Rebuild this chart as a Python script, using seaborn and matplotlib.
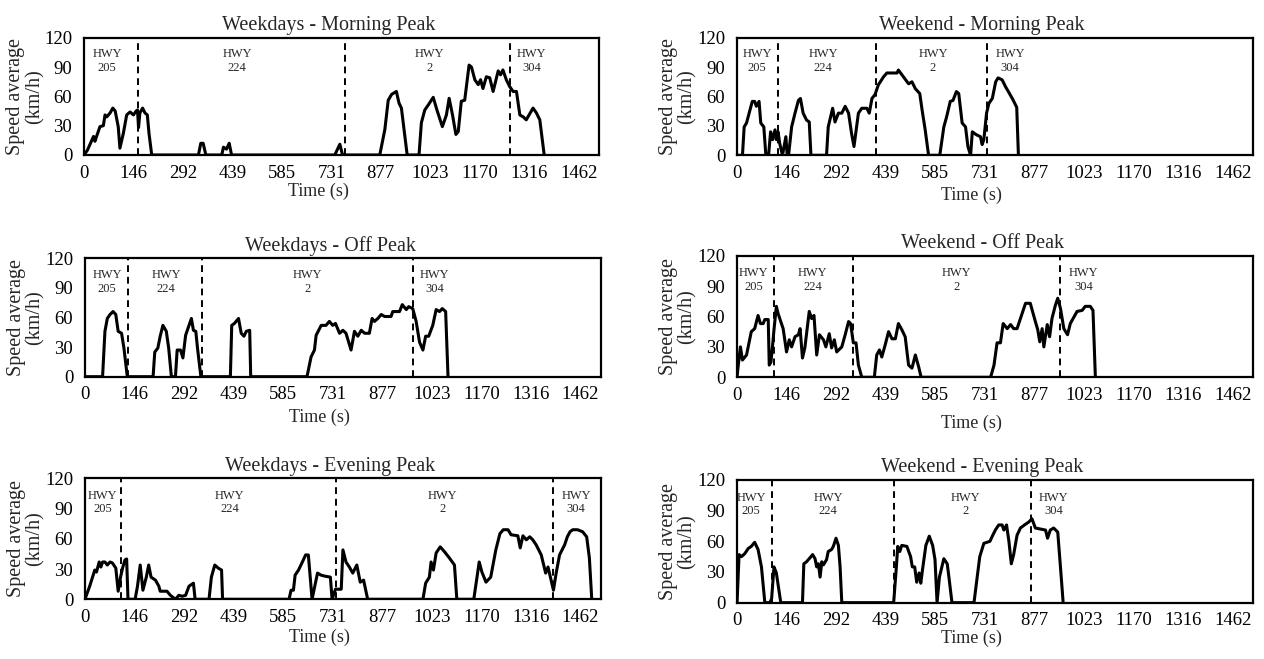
import matplotlib
matplotlib.use("Agg")
import matplotlib.pyplot as plt
import pandas as pd
import seaborn as sns

# -------------------
# Data (time in s, speed in km/h)
# -------------------
wd_morning_t = [0, 10, 28, 32, 42, 47, 57, 62, 67, 77, 85, 92, 101, 106, 116, 126, 136, 146, 154, 158,
                161, 165, 173, 180, 187, 192, 200, 338, 345, 352, 360, 407, 412, 421, 429, 436, 741, 756,
                764, 874, 889, 899, 909, 923, 931, 938, 955, 990, 997, 1007, 1017, 1032, 1043, 1059, 1071,
                1079, 1089, 1099, 1106, 1115, 1125, 1138, 1145, 1155, 1165, 1172, 1179, 1189, 1199, 1209,
                1224, 1231, 1238, 1248, 1258, 1268, 1278, 1288, 1298, 1307, 1327, 1337, 1347, 1360]
wd_morning_v = [0, 5, 19, 14, 24, 29, 30, 41, 39, 43, 48, 45, 29, 7, 22, 41, 44, 41, 45, 46,
                28, 43, 48, 43, 41, 22, 0, 0, 12, 12, 0, 0, 8, 6, 12, 0, 0, 11,
                0, 0, 26, 56, 62, 65, 53, 48, 0, 0, 33, 46, 51, 59, 46, 29, 41,
                58, 41, 21, 24, 55, 56, 92, 90, 77, 72, 77, 68, 80, 79, 65,
                86, 82, 87, 77, 70, 65, 65, 41, 39, 36, 48, 43, 36, 0]

we_morning_t = [0, 16, 21, 28, 38, 45, 52, 57, 65, 70, 79, 85, 93, 99, 105, 112, 116, 121, 126, 134,
                144, 148, 152, 161, 171, 181, 187, 195, 205, 213, 218, 264, 269, 282, 289, 299, 309, 319,
                329, 338, 345, 358, 368, 383, 390, 398, 407, 417, 432, 442, 472, 476, 491, 506, 516, 526,
                539, 546, 555, 565, 598, 610, 618, 629, 637, 647, 654, 664, 674, 681, 689, 694, 706, 718,
                723, 728, 736, 743, 753, 763, 770, 782, 792, 812, 825, 830]
we_morning_v = [0, 0, 29, 33, 46, 55, 55, 50, 55, 33, 29, 0, 0, 24, 16, 26, 16, 24, 12, 0,
                19, 0, 0, 29, 43, 56, 58, 43, 36, 34, 0, 0, 29, 48, 34, 43, 43, 50,
                43, 22, 9, 43, 48, 48, 43, 58, 62, 72, 80, 84, 84, 87, 80, 73, 75, 68,
                63, 46, 26, 0, 0, 29, 39, 55, 56, 65, 63, 33, 29, 9, 0, 24, 21, 19,
                11, 16, 43, 53, 58, 75, 79, 77, 70, 58, 49, 0]

wd_off_t = [0, 52, 59, 66, 74, 83, 91, 98, 108, 115, 125, 201, 206, 215, 222, 230, 240, 247, 255, 267,
            272, 282, 289, 297, 307, 314, 320, 327, 332, 342, 429, 433, 441, 453, 461, 469, 476, 486, 489,
            655, 667, 677, 682, 697, 711, 721, 731, 739, 751, 761, 770, 778, 785, 795, 805, 815, 825, 839,
            847, 854, 864, 874, 884, 903, 908, 928, 936, 948, 955, 967, 977, 987, 997, 1005, 1014, 1026,
            1036, 1046, 1054, 1064, 1071]
wd_off_v = [0, 0, 46, 59, 63, 66, 63, 46, 44, 29, 0, 0, 25, 29, 41, 52, 46, 29, 0, 0,
            27, 27, 19, 42, 52, 59, 47, 46, 29, 0, 0, 52, 54, 59, 44, 41, 46, 47, 0,
            0, 20, 27, 42, 52, 52, 56, 52, 54, 44, 47, 44, 35, 27, 46, 41, 47, 44, 44,
            59, 56, 59, 63, 61, 61, 66, 66, 73, 68, 71, 69, 56, 35, 27, 41, 41, 52,
            68, 66, 69, 66, 0]

we_off_t = [0, 3, 10, 16, 28, 42, 52, 62, 69, 77, 82, 92, 95, 100, 105, 109, 116, 121, 136, 146,
            154, 161, 171, 181, 186, 193, 200, 213, 220, 227, 235, 243, 255, 262, 272, 279, 287, 294,
            309, 319, 329, 335, 343, 351, 358, 368, 405, 412, 420, 427, 437, 447, 457, 467, 476, 486,
            496, 506, 516, 526, 536, 543, 748, 758, 767, 777, 785, 797, 807, 816, 826, 836, 851, 865,
            880, 887, 893, 900, 905, 915, 922, 929, 939, 946, 954, 964, 975, 983, 1003, 1018, 1027,
            1042, 1050, 1057]
we_off_v = [0, 10, 30, 17, 22, 45, 48, 61, 53, 53, 57, 57, 12, 15, 32, 47, 70, 63, 48, 25,
            37, 30, 40, 42, 48, 19, 29, 65, 58, 61, 22, 42, 37, 30, 43, 29, 37, 25,
            30, 42, 55, 53, 34, 34, 12, 0, 0, 22, 27, 20, 32, 45, 38, 38, 53, 47,
            40, 12, 9, 22, 10, 0, 0, 12, 34, 34, 53, 48, 52, 48, 48, 58, 73, 73,
            55, 47, 35, 48, 30, 52, 40, 58, 71, 78, 68, 48, 42, 53, 65, 66, 70,
            70, 66, 0]

wd_evening_t = [0, 14, 29, 34, 42, 47, 52, 59, 66, 74, 81, 91, 98, 105, 111, 118, 123, 127, 148, 155,
                163, 171, 181, 188, 195, 208, 218, 222, 242, 252, 267, 277, 287, 297, 307, 320, 325, 366,
                373, 383, 393, 403, 406, 602, 608, 615, 620, 630, 640, 651, 659, 670, 686, 696, 707, 724,
                729, 739, 756, 761, 770, 780, 790, 802, 812, 822, 834, 997, 1005, 1016, 1021, 1028, 1036,
                1048, 1061, 1075, 1090, 1097, 1147, 1163, 1171, 1183, 1197, 1212, 1224, 1234, 1248, 1257,
                1277, 1284, 1292, 1302, 1312, 1321, 1331, 1346, 1359, 1366, 1373, 1382, 1390, 1400, 1415,
                1423, 1431, 1439, 1453, 1468, 1480, 1488, 1495]
wd_evening_v = [0, 13, 29, 27, 37, 32, 37, 37, 34, 37, 36, 31, 8, 22, 31, 39, 40, 0, 0, 13,
                34, 9, 22, 34, 22, 19, 13, 8, 8, 4, 0, 4, 3, 4, 13, 16, 0, 0,
                22, 34, 31, 29, 0, 0, 9, 9, 24, 29, 36, 44, 44, 0, 26, 24, 23, 22,
                0, 10, 10, 49, 37, 32, 26, 34, 17, 19, 0, 0, 16, 22, 37, 29, 46,
                52, 47, 41, 34, 0, 0, 37, 27, 17, 22, 49, 65, 69, 69, 64,
                63, 51, 63, 59, 62, 59, 54, 44, 26, 32, 22, 9, 26, 44, 54,
                62, 67, 69, 69, 67, 62, 41, 0]

we_evening_t = [0, 6, 13, 23, 33, 42, 52, 62, 72, 82, 97, 102, 109, 116, 129, 193, 197, 205, 213, 223,
                230, 235, 240, 245, 250, 255, 264, 269, 279, 284, 292, 299, 304, 309, 462, 470, 474, 480,
                486, 501, 512, 517, 524, 530, 537, 542, 547, 557, 567, 577, 584, 590, 597, 610, 620, 625,
                634, 699, 708, 716, 728, 746, 753, 762, 772, 782, 787, 795, 802, 809, 816, 826, 836, 848,
                861, 870, 880, 895, 910, 916, 924, 934, 946, 954, 962]
we_evening_v = [0, 47, 45, 48, 53, 55, 59, 52, 35, 0, 0, 4, 35, 29, 0, 0, 38, 40, 43, 47,
                43, 35, 38, 25, 40, 37, 42, 50, 52, 55, 63, 56, 35, 0, 0, 35, 55, 50,
                56, 55, 45, 35, 35, 20, 29, 19, 32, 56, 65, 56, 42, 0, 25, 43, 38, 25,
                0, 0, 24, 45, 58, 60, 65, 71, 76, 76, 71, 76, 60, 38, 47, 66, 73, 76,
                79, 82, 73, 72, 71, 63, 71, 73, 69, 35, 0]

# highway boundaries (dashed lines) and label centres, in seconds
wd_morning_bounds = [159, 771, 1260]
we_morning_bounds = [122, 410, 736]
wd_off_bounds = [128, 344, 969]
we_off_bounds = [108, 343, 954]
wd_evening_bounds = [105, 741, 1382]
we_evening_bounds = [103, 464, 867]

wd_morning_lab_t = [68, 452, 1022, 1322]
we_morning_lab_t = [59, 254, 578, 805]
wd_off_lab_t = [65, 239, 657, 1031]
we_off_lab_t = [49, 223, 647, 1022]
wd_evening_lab_t = [52, 426, 1054, 1449]
we_evening_lab_t = [42, 269, 674, 934]

highways = ["205", "224", "2", "304"]
titles = ["Weekdays - Morning Peak", "Weekend - Morning Peak",
          "Weekdays - Off Peak", "Weekend - Off Peak",
          "Weekdays - Evening Peak", "Weekend - Evening Peak"]
xtick_labels = ["0", "146", "292", "439", "585", "731", "877", "1023", "1170", "1316", "1462"]
ytick_vals = [0, 30, 60, 90, 120]

series = [(wd_morning_t, wd_morning_v, wd_morning_bounds, wd_morning_lab_t),
          (we_morning_t, we_morning_v, we_morning_bounds, we_morning_lab_t),
          (wd_off_t, wd_off_v, wd_off_bounds, wd_off_lab_t),
          (we_off_t, we_off_v, we_off_bounds, we_off_lab_t),
          (wd_evening_t, wd_evening_v, wd_evening_bounds, wd_evening_lab_t),
          (we_evening_t, we_evening_v, we_evening_bounds, we_evening_lab_t)]

# -------------------
# Layout
# -------------------
rects = [[0.0665, 0.7648, 0.4074, 0.1780], [0.5831, 0.7643, 0.4082, 0.1785],
         [0.0672, 0.4284, 0.4082, 0.1797], [0.5831, 0.4275, 0.4082, 0.1845],
         [0.0672, 0.0906, 0.4082, 0.1836], [0.5831, 0.0855, 0.4082, 0.1862]]
xlabel_pads = [1, 3, 4, 8, 2, 0]

sns.set_style("white")
plt.rcParams['font.family'] = ['Liberation Serif', 'DejaVu Serif']

fig = plt.figure(figsize=(12.64, 6.59), dpi=100)

for i, (t, v, bounds, lab_t) in enumerate(series):
    ax = fig.add_axes(rects[i])
    df = pd.DataFrame({"time": t, "speed": v})
    sns.lineplot(data=df, x="time", y="speed", ax=ax, color="black",
                 lw=2.2, sort=False, estimator=None)

    for b in bounds:
        ax.axvline(b, color="black", lw=1.4, ls=(0, (3.5, 2.5)))
    for x, hw in zip(lab_t, highways):
        ax.text(x, 96, f"HWY\n{hw}", ha="center", va="center",
                fontsize=9, linespacing=1.2)

    ax.set_xlim(0, 1522)
    ax.set_ylim(0, 120)
    ax.set_xticks([int(s) for s in xtick_labels])
    ax.set_xticklabels(xtick_labels)
    ax.set_yticks(ytick_vals)
    ax.tick_params(axis="x", direction="out", length=4, width=1.3,
                   labelsize=13.5, pad=3, colors="black")
    ax.tick_params(axis="y", length=0, labelsize=13.5, pad=8.5, colors="black")
    for s in ax.spines.values():
        s.set_visible(True)
        s.set_linewidth(1.6)
        s.set_color("black")

    ax.set_title(titles[i], fontsize=14.5, pad=5.5, x=0.475)
    ax.set_xlabel("Time (s)", fontsize=13, labelpad=xlabel_pads[i], x=0.455)
    ax.set_ylabel("Speed average\n(km/h)", fontsize=14.5, linespacing=1.0, labelpad=0)

fig.savefig("out.png", dpi=100)
